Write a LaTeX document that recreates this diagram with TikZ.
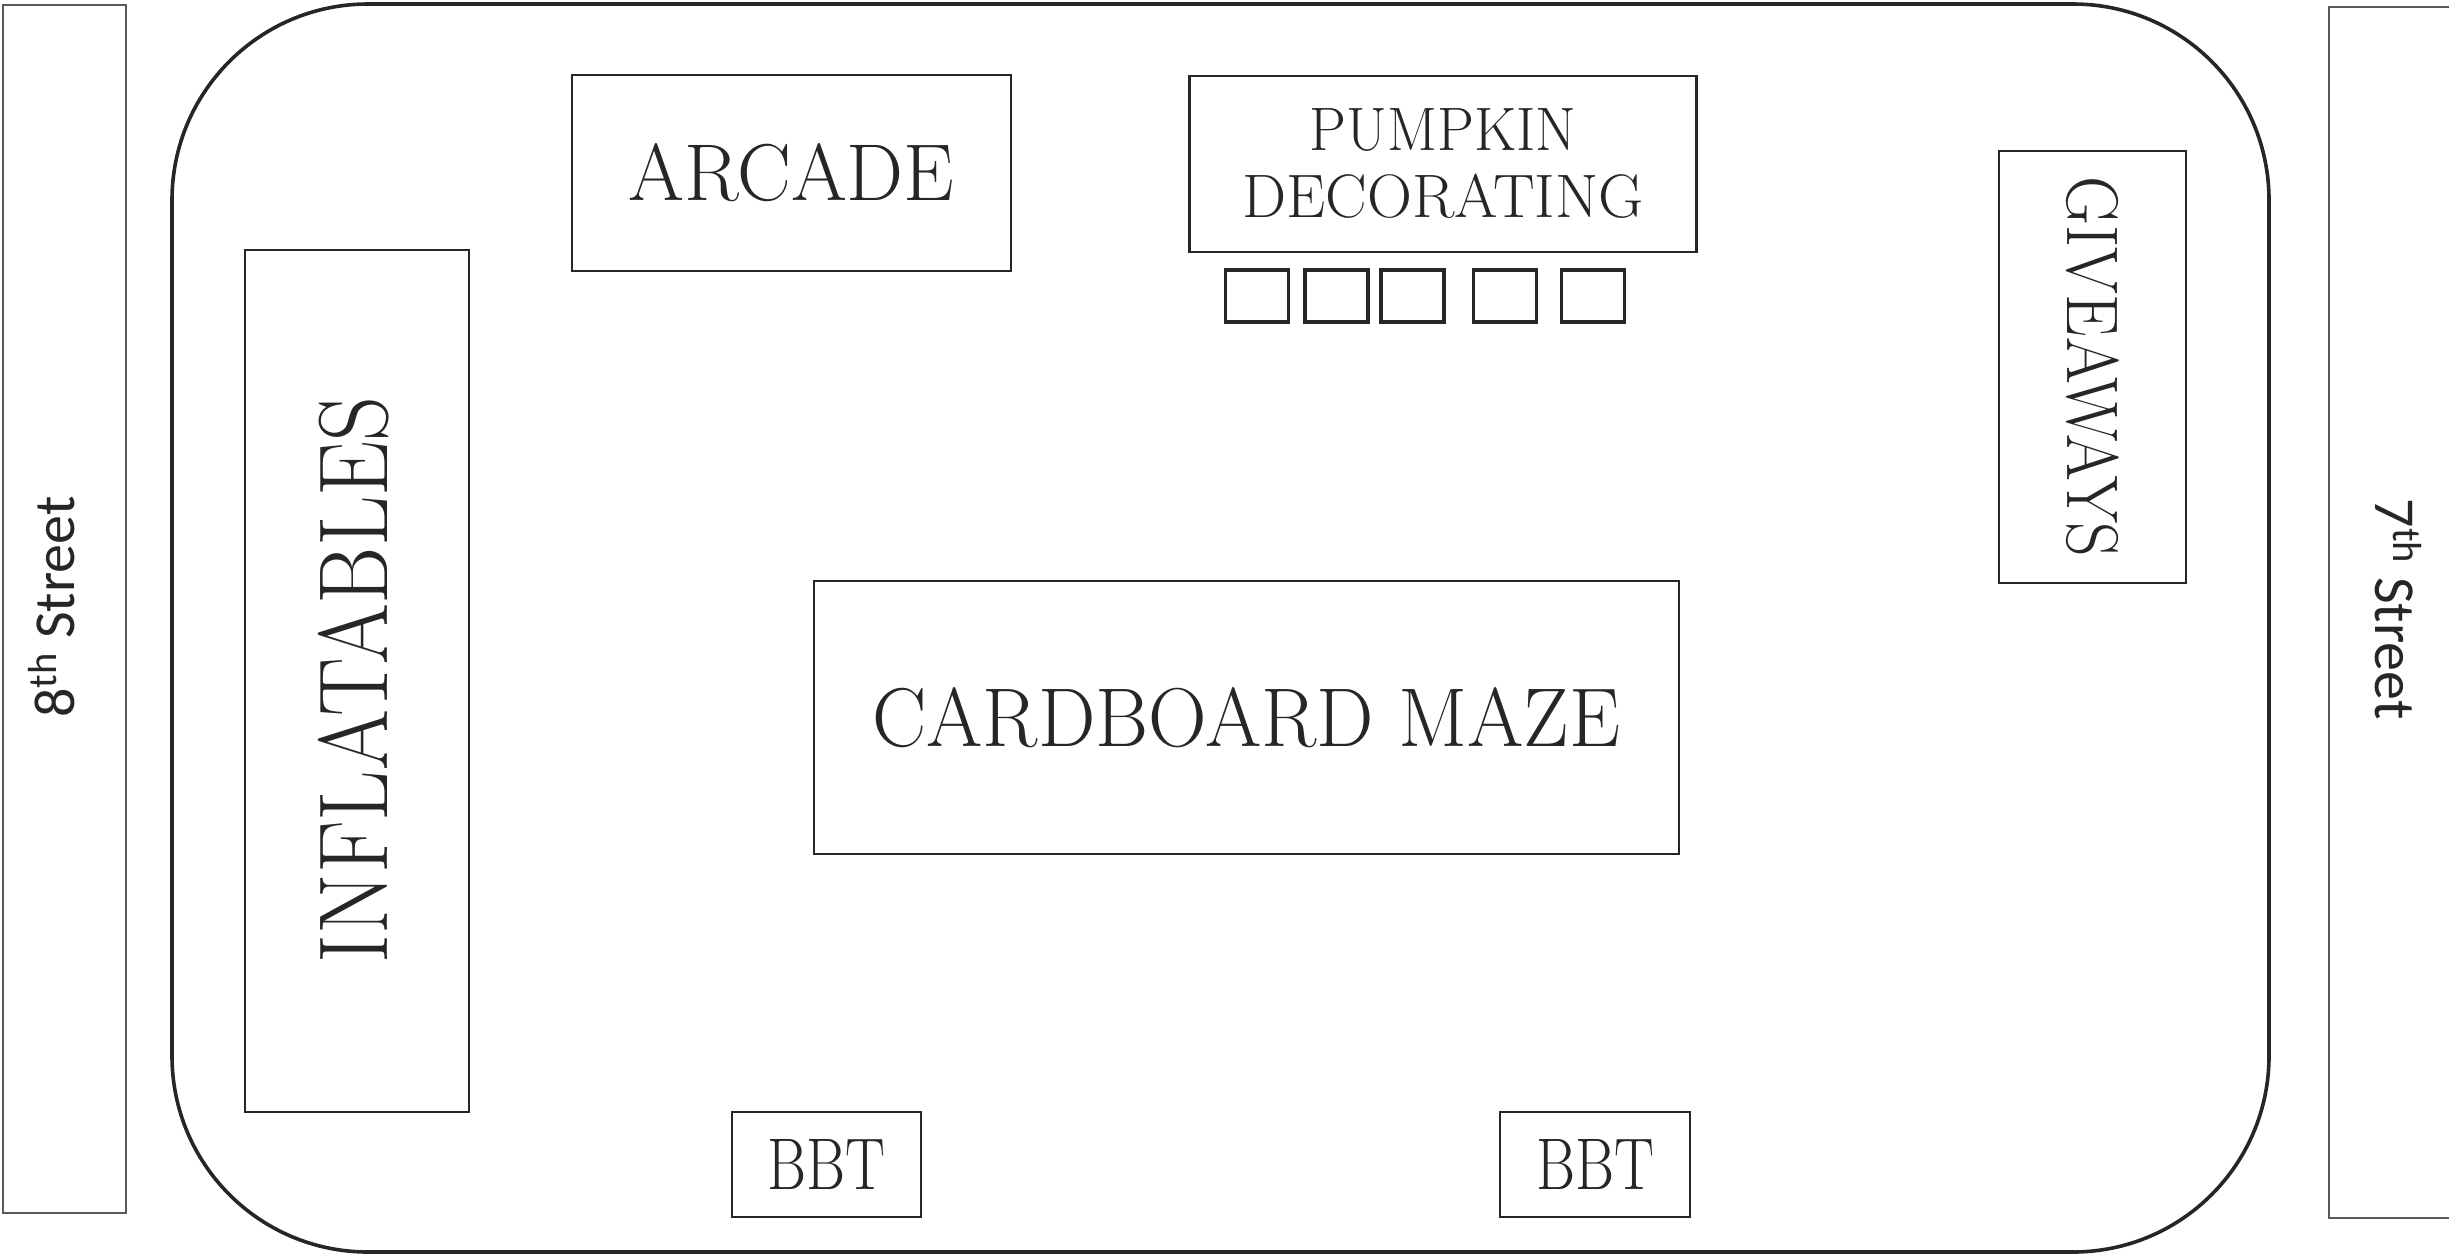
\documentclass[tikz,border=0pt]{standalone}
\usepackage{fontspec}
\newfontfamily\streetfont{Carlito}
\definecolor{ink}{gray}{0.15}
\definecolor{streetline}{gray}{0.35}
\tikzset{
  box/.style 2 args={draw=ink, line width=1.3pt, minimum width=#1*0.5pt, minimum height=#2*0.5pt, inner sep=0pt, text=ink},
  seat/.style={draw=ink, line width=1.8pt, minimum width=31.5pt, minimum height=26pt, inner sep=0pt},
  street/.style={draw=streetline, line width=1pt},
  lot/.style={draw=ink, line width=1.8pt, rounded corners=98pt, minimum width=1048.5pt, minimum height=624pt, inner sep=0pt},
  lbl/.style={inner sep=0pt, text=ink},
  streetlbl/.style={inner sep=0pt, text=ink, font=\streetfont\fontsize{29}{29}\selectfont}
}
\begin{document}
\begin{tikzpicture}[x=0.5pt,y=-0.5pt]
\useasboundingbox (0,0) rectangle (2449,1255);
\clip (0,0) rectangle (2449,1255);
% streets
\draw[street] (3,5) rectangle (126,1213);
\draw[street] (2329,7) rectangle (2480,1218);
\node[streetlbl, rotate=90] (s8) at (52,607) {8\textsuperscript{th} Street};
\node[streetlbl, rotate=-90] (s7) at (2398,609) {7\textsuperscript{th} Street};
% lot
\node[lot] (lot) at (1220.5,628) {};
% arcade
\node[box={439}{196}, font=\fontsize{40.3}{40.3}\selectfont] (arcade) at (791.5,173) {\scalebox{1.0}[1]{ARCADE}};
% pumpkin decorating
\node[box={507}{176}, align=center, font=\fontsize{30.7}{33.5}\selectfont] (pumpkin) at (1443,164) {\scalebox{0.955}[1]{PUMPKIN}\\\scalebox{1.015}[1]{DECORATING}};
\node[seat] (t1) at (1257,296) {};
\node[seat] (t2) at (1336.5,296) {};
\node[seat] (t3) at (1412.5,296) {};
\node[seat] (t4) at (1505,296) {};
\node[seat] (t5) at (1593,296) {};
% giveaways
\node[box={187}{432}] (give) at (2092.5,367) {};
\node[lbl, rotate=-90, font=\fontsize{36.6}{36.6}\selectfont] (givet) at (give.center) {\scalebox{0.923}[1]{GIVEAWAYS}};
% inflatables
\node[box={224}{862}] (infl) at (357,681) {};
\node[lbl, rotate=90, font=\fontsize{49}{49}\selectfont] (inflt) at (353.5,680) {\scalebox{0.894}[1]{INFLATABLES}};
% maze
\node[box={865}{273}, font=\fontsize{41.7}{41.7}\selectfont] (maze) at (1246.5,717.5) {\scalebox{0.974}[1]{CARDBOARD MAZE}};
% BBT
\node[box={189}{105}, font=\fontsize{36.6}{36.6}\selectfont] (bbt1) at (826.5,1164.5) {\scalebox{0.815}[1]{BBT}};
\node[box={190}{105}, font=\fontsize{36.6}{36.6}\selectfont] (bbt2) at (1595,1164.5) {\scalebox{0.815}[1]{BBT}};
\end{tikzpicture}
\end{document}
